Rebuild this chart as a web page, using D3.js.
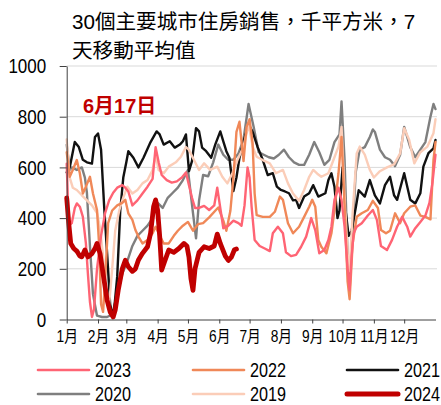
<!DOCTYPE html>
<html>
<head>
<meta charset="utf-8">
<script src="https://cdn.jsdelivr.net/npm/d3@7"></script>
<style>
  body { margin: 0; background: #fff; }
  svg { display: block; }
</style>
</head>
<body>
<div id="plot"></div>
<script>
    // [day of year, thousand sqm]
    const y2023 = [[0,615],[2,370],[5,380],[8,440],[10,458],[13,445],[16,405],[19,300],[21,180],[23,70],[25,10],[27,40],[30,200],[34,330],[38,420],[42,470],[46,500],[50,520],[55,530],[58,520],[61,505],[65,450],[70,470],[75,497],[80,524],[85,555],[88,680],[91,620],[94,570],[99,550],[104,540],[109,545],[114,560],[118,580],[121,530],[124,480],[127,440],[131,440],[136,448],[141,432],[146,450],[149,520],[152,440],[155,360],[160,370],[165,390],[170,380],[173,370],[176,450],[179,600],[181,560],[183,445],[186,314],[191,290],[196,280],[201,270],[204,340],[209,366],[214,340],[217,265],[222,250],[227,255],[232,287],[237,327],[242,400],[246,353],[250,261],[255,274],[259,314],[262,366],[265,472],[269,520],[272,472],[275,366],[278,200],[280,116],[282,250],[284,340],[287,366],[292,380],[298,410],[303,432],[307,393],[311,290],[317,274],[322,314],[327,366],[332,405],[337,366],[340,327],[345,360],[350,385],[355,410],[359,460],[362,540],[365,650]];
    const y2022 = [[0,660],[3,563],[6,590],[10,629],[13,577],[16,497],[19,524],[23,563],[26,497],[30,432],[32,300],[34,60],[36,30],[38,155],[41,380],[45,430],[50,450],[55,460],[58,472],[61,419],[65,393],[68,353],[71,327],[75,300],[80,314],[85,340],[88,366],[91,340],[96,300],[101,300],[106,330],[110,350],[115,370],[120,385],[125,350],[130,376],[135,380],[141,403],[147,429],[150,442],[155,390],[158,350],[162,429],[165,560],[168,740],[171,780],[175,625],[178,760],[181,790],[184,695],[186,497],[188,412],[194,405],[201,405],[206,425],[211,485],[214,472],[219,380],[224,340],[230,366],[235,405],[240,445],[243,472],[246,445],[249,314],[252,287],[257,261],[262,340],[265,432],[269,577],[272,720],[275,450],[278,150],[280,80],[283,300],[287,405],[292,419],[298,432],[303,468],[308,440],[311,353],[316,340],[320,350],[325,419],[330,380],[334,419],[340,445],[345,450],[350,410],[355,405],[360,395],[363,629],[365,700]];
    const y2021 = [[0,580],[3,600],[8,700],[12,680],[16,630],[20,620],[25,615],[28,720],[31,734],[34,670],[37,450],[40,260],[43,60],[45,25],[47,40],[50,170],[53,430],[56,560],[59,620],[61,664],[66,638],[71,600],[76,638],[83,700],[89,742],[92,730],[96,690],[102,703],[107,678],[112,690],[115,703],[118,730],[121,585],[124,625],[128,755],[131,742],[134,678],[138,664],[143,638],[147,690],[152,742],[155,703],[158,664],[161,638],[165,507],[168,560],[171,638],[176,716],[180,770],[184,740],[189,680],[194,630],[199,570],[204,577],[208,524],[212,511],[216,505],[220,498],[224,470],[227,472],[230,440],[235,485],[240,498],[244,530],[249,485],[256,498],[259,550],[262,577],[265,524],[268,400],[270,430],[273,600],[276,430],[279,330],[282,350],[286,440],[289,510],[295,485],[300,550],[305,490],[310,458],[315,530],[320,563],[324,490],[327,472],[334,577],[340,472],[345,458],[350,498],[353,603],[358,656],[363,675],[365,708]];
    const y2020 = [[0,690],[3,590],[5,600],[10,590],[15,600],[18,560],[20,500],[23,290],[26,100],[30,15],[35,10],[40,10],[45,20],[50,100],[55,180],[60,230],[65,290],[70,330],[75,350],[80,370],[85,400],[90,460],[95,440],[100,480],[105,500],[110,520],[115,550],[120,590],[125,420],[128,320],[131,470],[135,570],[140,565],[145,620],[150,690],[155,650],[160,630],[165,630],[170,655],[175,710],[180,850],[185,760],[190,660],[195,650],[200,640],[205,635],[210,650],[215,670],[220,640],[225,620],[230,610],[235,610],[240,650],[245,700],[250,660],[255,610],[260,630],[265,700],[270,730],[272,860],[275,630],[278,250],[280,160],[283,350],[286,580],[290,670],[295,680],[300,720],[303,750],[305,740],[310,670],[315,640],[320,630],[325,605],[330,650],[334,760],[340,680],[345,640],[350,670],[355,700],[360,800],[363,850],[365,830]];
    const y2019 = [[0,710],[3,560],[6,520],[10,511],[15,490],[20,470],[25,450],[30,420],[33,360],[36,250],[39,90],[42,60],[45,200],[48,350],[52,430],[55,470],[60,524],[65,497],[70,511],[75,537],[80,550],[85,590],[88,650],[91,590],[96,577],[101,603],[108,620],[113,642],[118,680],[121,669],[126,629],[131,590],[136,616],[142,590],[149,603],[154,563],[159,537],[164,577],[169,629],[175,682],[180,770],[184,682],[188,642],[194,629],[201,616],[207,577],[214,590],[219,537],[224,497],[230,468],[235,511],[240,563],[244,590],[248,575],[252,563],[259,577],[264,629],[269,682],[272,760],[275,500],[278,260],[280,190],[283,420],[287,655],[290,682],[295,650],[300,590],[304,560],[310,585],[317,600],[324,612],[330,655],[334,755],[339,708],[344,616],[350,660],[357,682],[363,735],[365,790]];
    const y2024 = [[0,480],[2,380],[4,300],[7,280],[10,270],[13,250],[15,247],[18,274],[21,247],[25,260],[28,280],[30,300],[33,260],[37,155],[40,76],[43,30],[46,10],[48,37],[51,116],[55,200],[58,234],[61,208],[65,190],[68,200],[71,235],[75,261],[80,287],[83,340],[86,445],[88,472],[90,430],[92,330],[94,195],[97,230],[101,274],[106,265],[111,280],[116,300],[119,290],[121,246],[123,160],[125,115],[127,200],[131,265],[136,287],[141,280],[146,290],[149,337],[152,300],[157,250],[160,233],[163,246],[166,275],[168,278]];

    const monthStarts = [0, 31, 59, 90, 120, 151, 181, 212, 243, 273, 304, 334];
    const monthLabels = ["1月", "2月", "3月", "4月", "5月", "6月", "7月", "8月", "9月", "10月", "11月", "12月"];
    const yTicks = [0, 200, 400, 600, 800, 1000];

    const font = "'Liberation Sans', Arial, 'Noto Sans CJK TC', sans-serif";

    const svg = d3.select("div#plot")
      .append("svg")
        .attr("width", 441)
        .attr("height", 405);

    const xScale = d3.scaleLinear()
      .domain([0, 365])
      .range([66.7, 435.5]);

    const yScale = d3.scaleLinear()
      .domain([0, 1000])
      .range([319.5, 66]);

    // grid
    svg.selectAll(".grid")
      .data(yTicks.slice(1))
      .enter()
      .append("line")
        .attr("class", "grid")
        .attr("x1", xScale(0))
        .attr("x2", 437)
        .attr("y1", d => yScale(d))
        .attr("y2", d => yScale(d))
        .attr("stroke", "#d9d9d9")
        .attr("stroke-width", 1);

    const series = [
      { name: "2020", data: y2020, color: "#7f7f7f", width: 2.4 },
      { name: "2021", data: y2021, color: "#111111", width: 2.4 },
      { name: "2019", data: y2019, color: "#fbcdb8", width: 2.4 },
      { name: "2022", data: y2022, color: "#f08858", width: 2.4 },
      { name: "2023", data: y2023, color: "#ff6474", width: 2.4 },
      { name: "2024", data: y2024, color: "#c00000", width: 4.8 },
    ];

    const line = d3.line()
      .x(d => xScale(d[0]))
      .y(d => yScale(d[1]));

    svg.selectAll(".series")
      .data(series)
      .enter()
      .append("path")
        .attr("class", "series")
        .attr("d", d => line(d.data))
        .attr("fill", "none")
        .attr("stroke", d => d.color)
        .attr("stroke-width", d => d.width)
        .attr("stroke-linejoin", "round")
        .attr("stroke-linecap", "round");

    // axes
    const xAxis = d3.axisBottom(xScale)
      .tickValues(monthStarts)
      .tickSize(4)
      .tickSizeOuter(0)
      .tickPadding(7)
      .tickFormat((d, i) => monthLabels[i]);

    const yAxis = d3.axisLeft(yScale)
      .tickValues(yTicks)
      .tickSize(7)
      .tickSizeOuter(0)
      .tickFormat(d3.format("d"));

    const gx = svg.append("g")
      .attr("transform", "translate(0, 319.5)")
      .call(xAxis);
    gx.select(".domain").attr("stroke", "#404040");
    gx.selectAll(".tick line").attr("stroke", "#404040");
    gx.selectAll("text")
      .style("font-family", font)
      .style("font-size", "16px")
      .attr("transform", "scale(0.86,1)")
      .attr("fill", "#000");

    const gy = svg.append("g")
      .attr("transform", "translate(66.7, 0)")
      .call(yAxis);
    gy.select(".domain").attr("stroke", "#404040");
    gy.selectAll(".tick line").attr("stroke", "#404040");
    gy.selectAll("text")
      .attr("x", 0)
      .attr("transform", "translate(-20.5,0) scale(0.81,1)")
      .style("font-family", font)
      .style("font-size", "21px")
      .attr("fill", "#000");

    // title
    const title = svg.append("text")
      .style("font-family", font)
      .style("font-size", "20.6px")
      .attr("fill", "#000");
    title.append("tspan").attr("x", 72).attr("y", 29).text("30個主要城市住房銷售，千平方米，7");
    title.append("tspan").attr("x", 72).attr("y", 58).text("天移動平均值");

    svg.append("text")
      .attr("x", 83)
      .attr("y", 113)
      .style("font-family", font)
      .style("font-size", "20px")
      .style("font-weight", "bold")
      .attr("fill", "#c00000")
      .text("6月17日");

    // legend
    const legendItems = [
      { name: "2023", col: 0, row: 0 },
      { name: "2022", col: 1, row: 0 },
      { name: "2021", col: 2, row: 0 },
      { name: "2020", col: 0, row: 1 },
      { name: "2019", col: 1, row: 1 },
      { name: "2024", col: 2, row: 1 },
    ];
    const colX = [38, 193, 347];
    const rowY = [370, 394];

    const key = svg.selectAll(".key")
      .data(legendItems)
      .enter()
      .append("g")
        .attr("class", "key")
        .attr("transform", d => `translate(${colX[d.col]}, ${rowY[d.row]})`);

    key.append("line")
      .attr("x1", 0)
      .attr("x2", 51)
      .attr("y1", 0)
      .attr("y2", 0)
      .attr("stroke", d => series.find(s => s.name === d.name).color)
      .attr("stroke-width", d => d.name === "2024" ? 5 : 2.6)
      .attr("stroke-linecap", "round");

    key.append("text")
      .attr("x", 0)
      .attr("y", 0)
      .attr("dy", "0.35em")
      .attr("transform", "translate(57,0) scale(0.81,1)")
      .style("font-family", font)
      .style("font-size", "20px")
      .attr("fill", "#000")
      .text(d => d.name);
</script>
</body>
</html>
